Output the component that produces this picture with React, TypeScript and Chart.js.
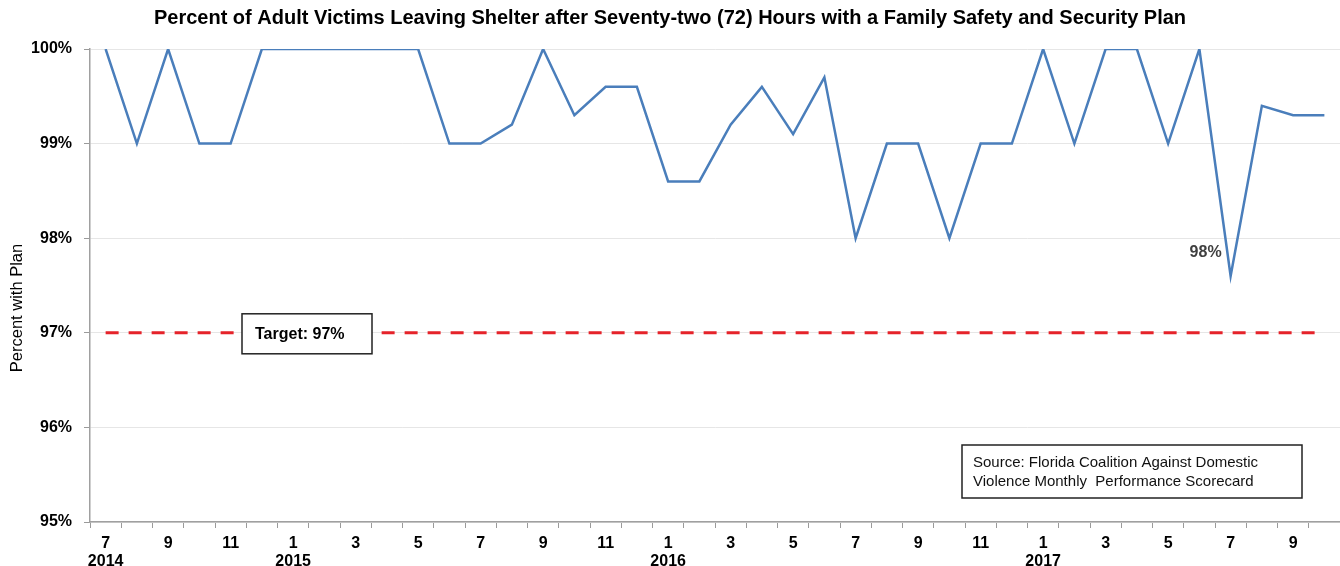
import React, { useEffect, useRef } from "react";
import { Chart, registerables } from "chart.js";

Chart.register(...registerables);

const monthLabels = [
  "7", "8", "9", "10", "11", "12",
  "1", "2", "3", "4", "5", "6", "7", "8", "9", "10", "11", "12",
  "1", "2", "3", "4", "5", "6", "7", "8", "9", "10", "11", "12",
  "1", "2", "3", "4", "5", "6", "7", "8", "9", "10",
];
const yearLabels = [
  "2014", "", "", "", "", "",
  "2015", "", "", "", "", "", "", "", "", "", "", "",
  "2016", "", "", "", "", "", "", "", "", "", "", "",
  "2017", "", "", "", "", "", "", "", "", "",
];
const percentWithPlan = [
  100, 99, 100, 99, 99, 100,
  100, 100, 100, 100, 100, 99, 99, 99.2, 100, 99.3, 99.6, 99.6,
  98.6, 98.6, 99.2, 99.6, 99.1, 99.7, 98.0, 99, 99, 98, 99, 99,
  100, 99, 100, 100, 99, 100, 97.6, 99.4, 99.3, 99.3,
];
const targetValue = 97;
const targetSeries = monthLabels.map(() => targetValue);
const yTicks = [95, 96, 97, 98, 99, 100];

const titleText =
  "Percent of Adult Victims Leaving Shelter after Seventy-two (72) Hours with a Family Safety and Security Plan";
const yTitle = "Percent with Plan";
const targetText = "Target: 97%";
const sourceLines = [
  "Source: Florida Coalition Against Domestic",
  "Violence Monthly  Performance Scorecard",
];
const dipLabel = "98%";

const FONT = "'Liberation Sans', Arial, Helvetica, sans-serif";

const annotations = {
  id: "annotations",
  afterDraw(chart: any) {
    const ctx = chart.ctx;
    const x = chart.scales.x;
    const y = chart.scales.y;
    ctx.save();
    // y axis title
    ctx.save();
    ctx.translate(17, 308);
    ctx.rotate(-Math.PI / 2);
    ctx.fillStyle = "#000";
    ctx.font = `16.5px ${FONT}`;
    ctx.textAlign = "center";
    ctx.textBaseline = "middle";
    ctx.fillText(yTitle, 0, 0);
    ctx.restore();

    // target box
    const ty = y.getPixelForValue(targetValue);
    const bx = 242, bw = 130, bh = 40;
    const by = ty - 19;
    ctx.fillStyle = "#fff";
    ctx.fillRect(bx, by, bw, bh);
    ctx.strokeStyle = "#222";
    ctx.lineWidth = 1.5;
    ctx.strokeRect(bx, by, bw, bh);
    ctx.fillStyle = "#000";
    ctx.font = `bold 16px ${FONT}`;
    ctx.textAlign = "left";
    ctx.textBaseline = "middle";
    ctx.fillText(targetText, bx + 13, by + bh / 2 + 1);

    // source box
    const sx = 962, sy = 445, sw = 340, sh = 53;
    ctx.fillStyle = "#fff";
    ctx.fillRect(sx, sy, sw, sh);
    ctx.strokeStyle = "#222";
    ctx.lineWidth = 1.5;
    ctx.strokeRect(sx, sy, sw, sh);
    ctx.fillStyle = "#111";
    ctx.font = `15px ${FONT}`;
    ctx.fillText(sourceLines[0], sx + 11, sy + 18);
    ctx.fillText(sourceLines[1], sx + 11, sy + 37);

    // dip label
    const di = 36;
    const dx = x.getPixelForValue(di);
    const dy = y.getPixelForValue(98);
    ctx.fillStyle = "#404040";
    ctx.font = `bold 16px ${FONT}`;
    ctx.textAlign = "right";
    ctx.fillText(dipLabel, dx - 9, dy + 14);
    ctx.restore();
  },
};

export default function App() {
  const ref = useRef<HTMLCanvasElement>(null);
  useEffect(() => {
    if (!ref.current) return;
    const chart = new Chart(ref.current, {
      type: "line",
      data: {
        labels: monthLabels,
        datasets: [
          {
            label: "Percent with Plan",
            data: percentWithPlan,
            borderColor: "#4a7ebb",
            borderWidth: 2.5,
            pointRadius: 0,
            tension: 0,
            fill: false,
          },
          {
            label: "Target",
            data: targetSeries,
            borderColor: "#e5232a",
            borderWidth: 3,
            borderDash: [13, 10],
            pointRadius: 0,
            fill: false,
          },
        ],
      },
      options: {
        animation: false,
        responsive: true,
        maintainAspectRatio: false,
        layout: { padding: 0 },
        plugins: {
          legend: { display: false },
          tooltip: { enabled: false },
          title: {
            display: true,
            text: titleText,
            color: "#000",
            font: { family: FONT, size: 20, weight: "bold", lineHeight: 1.2 },
            padding: { top: 6, bottom: 19 },
          },
        },
        scales: {
          x: {
            type: "category",
            offset: true,
            afterFit: (s: any) => {
              s.height = 44;
            },
            grid: {
              display: true,
              offset: true,
              drawOnChartArea: false,
              drawTicks: true,
              tickLength: 6,
              tickColor: "#9a9a9a",
              color: "#9a9a9a",
            },
            border: { display: true, color: "#a0a0a0", width: 1.5 },
            ticks: {
              autoSkip: false,
              maxRotation: 0,
              minRotation: 0,
              padding: 7,
              color: "#000",
              font: { family: FONT, size: 16, weight: "bold", lineHeight: 1.125 },
              callback: (_v: any, i: number) => {
                if (i % 2 !== 0) return "";
                return yearLabels[i] ? [monthLabels[i], yearLabels[i]] : monthLabels[i];
              },
            },
          },
          y: {
            min: 95,
            max: 100,
            afterFit: (s: any) => {
              s.width = 90;
            },
            afterBuildTicks: (s: any) => {
              s.ticks = yTicks.map((v) => ({ value: v }));
            },
            grid: {
              color: "#e6e6e6",
              lineWidth: 1,
              drawTicks: true,
              tickLength: 6,
              tickColor: "#9a9a9a",
            },
            border: { display: true, color: "#a0a0a0", width: 1.5 },
            ticks: {
              padding: 12,
              color: "#000",
              font: { family: FONT, size: 16, weight: "bold" },
              callback: (v: any) => `${v}%`,
            },
          },
        },
      },
      plugins: [annotations],
    });
    return () => chart.destroy();
  }, []);
  return (
    <div style={{ position: "absolute", left: 0, top: 0, width: 1340, height: 566 }}>
      <canvas ref={ref} />
    </div>
  );
}
